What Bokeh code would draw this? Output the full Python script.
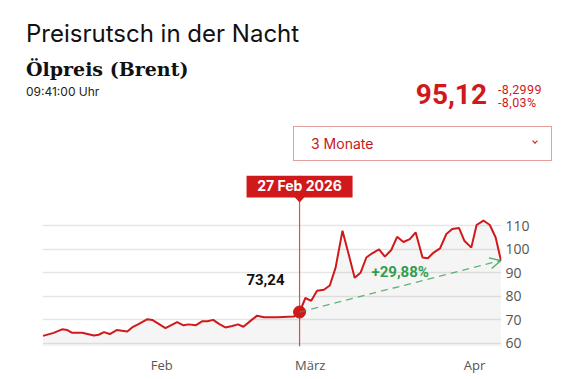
from bokeh.plotting import figure
from bokeh.layouts import column
from bokeh.models import (Label, Span, Arrow, OpenHead, BoxAnnotation, PolyAnnotation,
                          FixedTicker, Range1d, ColumnDataSource, Div)
from bokeh.embed import file_html
from bokeh.resources import INLINE

# ---- data (day number of 2026, 1 Jan = 0) ----
days = [8.6, 10.6, 12.2, 13.2, 14.1, 16.0, 18.2, 19.1, 20.1, 21.2, 22.5, 24.5, 25.4, 26.7,
        28.3, 29.2, 30.2, 31.7, 32.7, 33.9, 35.1, 36.1, 37.4, 38.6, 39.6, 40.7, 41.8, 43.0,
        44.3, 45.4, 46.4, 47.8, 49.0, 50.3, 52.8, 55.9, 57.0, 58.1, 59.2, 60.3, 61.6, 62.7,
        63.8, 65.1, 66.1, 67.4, 68.5, 69.6, 70.7, 72.0, 73.1, 74.3, 75.4, 76.6, 77.8, 78.9,
        80.2, 81.2, 82.3, 83.5, 84.7, 85.8, 87.1, 88.1, 89.4, 90.4, 91.7, 92.9, 94.0, 95.0]
prices = [63.1, 64.4, 65.9, 65.6, 64.4, 64.4, 63.3, 63.6, 64.7, 63.9, 65.6, 65.0, 66.7, 68.2,
          70.2, 69.9, 68.5, 66.4, 67.6, 69.0, 67.6, 68.0, 67.6, 69.3, 69.3, 69.9, 68.2, 66.7,
          67.3, 68.0, 67.0, 69.6, 71.7, 71.0, 71.0, 71.3, 73.24, 79.2, 78.0, 82.3, 82.7, 84.5,
          92.1, 107.8, 99.2, 87.8, 89.9, 96.4, 98.2, 99.9, 96.8, 99.6, 105.2, 103.0, 104.2, 107.1,
          96.4, 96.1, 98.5, 100.3, 106.4, 108.5, 108.9, 103.5, 100.6, 110.2, 112.1, 110.2, 104.9, 95.12]
selected_day = 57.0
selected_label = "27 Feb 2026"
change_since_selected = "+29,88%"
month_ticks = [31, 59, 90]
month_labels = ["Feb", "März", "Apr"]
y_ticks = [60, 70, 80, 90, 100, 110]

title = "Preisrutsch in der Nacht"
subtitle = "Ölpreis (Brent)"
time_text = "09:41:00 Uhr"
last_price = "95,12"
change_abs = "-8,2999"
change_pct = "-8,03%"
period = "3 Monate"

RED = "#d0191b"
GREEN = "#2f9e4f"
GRAY = "#555555"

# ---- layout (page pixels) ----
W = 559
HEAD_H = 175                  # header div height; chart frame starts right below
FL, FR, FT, FB = 42, 501, 175, 346
X0, X1 = 8.5, 95.1
Y0, Y1 = 58.6, 131.24
LABEL_SHIFT = 6               # canvas text sits a little low; lift it


def txt(text, size, font, color, left=None, right=None, baseline=0, weight="normal", k=0.86,
        extra=""):
    top = baseline - k * size
    pos = f"left:{left}px;" if left is not None else f"right:{W - right}px;"
    return (f'<span style="position:absolute;{pos}top:{top:.1f}px;font-family:\'{font}\';'
            f'font-size:{size}px;line-height:1;color:{color};font-weight:{weight};'
            f'white-space:nowrap;{extra}">{text}</span>')


html = (f'<div style="position:relative;width:{W}px;height:{HEAD_H}px;overflow:hidden;">'
        + txt(title, 24, "Inter", "#111111", left=26, baseline=43)
        + txt(subtitle, 19, "DejaVu Serif", "#111111", left=26, baseline=76, weight="bold", k=0.85)
        + txt(time_text, 12, "Inter", "#222222", left=26, baseline=96.5)
        + txt(last_price, 28, "Roboto", RED, right=487, baseline=106, weight="bold", k=0.9)
        + txt(change_abs, 12.5, "Roboto", RED, left=498, baseline=94.5, k=0.88,
              extra="letter-spacing:0.4px;")
        + txt(change_pct, 12.5, "Roboto", RED, left=498, baseline=108, k=0.88,
              extra="letter-spacing:0.4px;")
        + '<div style="position:absolute;left:293px;top:126px;width:259px;height:35px;'
          'border:1px solid #e3a0a0;"></div>'
        + txt(period, 14, "Inter", "#c4161c", left=311, baseline=149)
        + '<div style="position:absolute;left:533px;top:139px;width:4px;height:4px;'
          'border-right:1px solid #c4161c;border-bottom:1px solid #c4161c;'
          'transform:rotate(45deg);"></div>'
        + '</div>')
head = Div(text=html, width=W, height=HEAD_H, margin=(0, 0, 0, 0))

p = figure(frame_width=FR - FL, frame_height=FB - FT, output_backend="svg",
           toolbar_location=None, y_axis_location="right",
           x_range=Range1d(X0, X1), y_range=Range1d(Y0, Y1),
           min_border_left=FL, min_border_right=W - FR,
           min_border_top=0, min_border_bottom=25, margin=(0, 0, 0, 0))
p.outline_line_color = None
p.xgrid.grid_line_color = None
p.ygrid.grid_line_color = "#e6e6e6"
p.ygrid.grid_line_width = 1.5
p.yaxis.ticker = FixedTicker(ticks=y_ticks)
p.xaxis.ticker = FixedTicker(ticks=month_ticks)
p.xaxis.major_label_overrides = {t: l for t, l in zip(month_ticks, month_labels)}
for ax in (p.xaxis, p.yaxis):
    ax.axis_line_color = None
    ax.major_tick_line_color = None
    ax.minor_tick_line_color = None
    ax.major_tick_out = 0
    ax.major_tick_in = 0
    ax.major_label_text_color = GRAY
    ax.major_label_text_font = "Open Sans"
p.xaxis.major_label_text_font_size = "13px"
p.xaxis.major_label_standoff = 9
p.yaxis.major_label_text_font_size = "14px"
p.yaxis.major_label_standoff = 4

# selected-day vertical rule, under everything else
p.add_layout(Span(location=selected_day, dimension="height", line_color="#d9534f",
                  line_width=1.2, level="underlay"))

src = ColumnDataSource(dict(x=days, y=prices, base=[Y0] * len(days)))
p.varea(x="x", y1="base", y2="y", source=src, fill_color="#000000", fill_alpha=0.04)
p.line(x="x", y="y", source=src, line_color=RED, line_width=2)

si = days.index(selected_day)
p.add_layout(Arrow(end=OpenHead(size=11, line_color=GREEN, line_width=1.3, line_alpha=0.85),
                   x_start=days[si], y_start=prices[si], x_end=days[-1], y_end=prices[-1],
                   line_color=GREEN, line_width=1.3, line_dash="7 5", line_alpha=0.75))
p.scatter(x=[days[si]], y=[prices[si]], size=12, color=RED)


def sx(px):
    return px - FL


def sy(py):
    return FB - py


def lab(text, x, y, size, color="#111111", font="Inter", style="normal", align="left",
        x_units="screen"):
    p.add_layout(Label(x=x if x_units == "data" else sx(x), y=sy(y - LABEL_SHIFT),
                       x_units=x_units, y_units="screen", text=text, text_font=font,
                       text_font_size=size, text_color=color, text_font_style=style,
                       text_align=align, text_baseline="alphabetic"))


# tooltip for the selected day
cx = FL + (selected_day - X0) / (X1 - X0) * (FR - FL)
p.add_layout(BoxAnnotation(left=sx(cx - 53), right=sx(cx + 53), top=sy(175), bottom=sy(197),
                           left_units="screen", right_units="screen", top_units="screen",
                           bottom_units="screen", fill_color=RED, fill_alpha=1, line_color=None))
p.add_layout(PolyAnnotation(xs=[sx(cx - 5), sx(cx + 5), sx(cx)], ys=[sy(196.5), sy(196.5), sy(202)],
                            xs_units="screen", ys_units="screen", fill_color=RED, fill_alpha=1,
                            line_color=None))
lab(selected_label, selected_day, 191, "14px", color="white", style="bold", align="center",
    x_units="data")

lab(f"{prices[si]:.2f}".replace(".", ","), 284, 285, "15px", font="Roboto", style="bold",
    align="right")
lab(change_since_selected, 371, 277.5, "15px", color=GREEN, font="Roboto", style="bold")

layout = column(head, p, spacing=0, margin=(0, 0, 0, 0))
open("out.html", "w").write(file_html(layout, INLINE))
